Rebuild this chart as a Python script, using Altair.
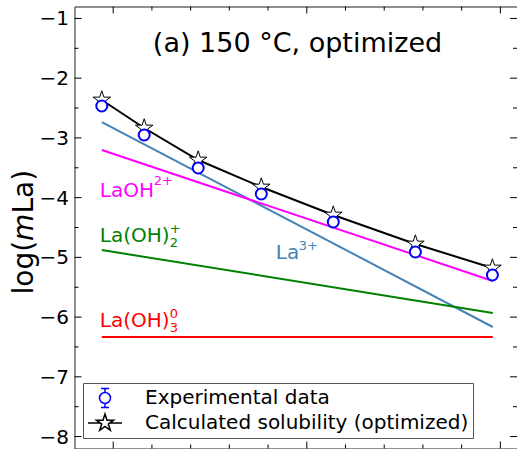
import math
import altair as alt
import pandas as pd

# ---------------- data ----------------
x_data = [-0.059, 0.160, 0.439, 0.765, 1.137, 1.561, 1.959]
exp_logm = [-2.466, -2.951, -3.504, -3.939, -4.408, -4.910, -5.295]
exp_err = [0.05, 0.05, 0.05, 0.05, 0.05, 0.05, 0.05]
calc_logm = [-2.365, -2.834, -3.370, -3.822, -4.291, -4.776, -5.178]

species_x = [-0.059, 1.961]
la3_logm = [-2.734, -6.166]
laoh_logm = [-3.202, -5.395]
laoh2_logm = [-4.877, -5.931]
laoh3_logm = [-6.334, -6.334]

species_names = ["La3+", "LaOH2+", "La(OH)2+", "La(OH)3"]
species_colors = ["steelblue", "#ff00ff", "#008000", "#ff0000"]

series_names = ["Experimental data", "Calculated solubility (optimized)"]

y_major = [-8, -7, -6, -5, -4, -3, -2, -1]
y_tick_labels = ["\u22128", "\u22127", "\u22126", "\u22125", "\u22124", "\u22123", "\u22122", "\u22121"]
y_minor = [-7.5, -6.5, -5.5, -4.5, -3.5, -2.5, -1.5]
x_major = [0, 1, 2]
x_minor = [0.2, 0.4, 0.6, 0.8, 1.2, 1.4, 1.6, 1.8]

# species labels: main text, position, sup / sub text
lab_main = ["LaOH", "La(OH)", "La(OH)", "La"]
lab_x = [-0.059, -0.059, -0.059, 0.85]
lab_y = [-3.99, -4.74, -6.17, -5.03]
lab_color = ["#ff00ff", "#008000", "#ff0000", "steelblue"]
lab_sup = ["2+", "+", "0", "3+"]
lab_sub = ["", "2", "3", ""]
lab_supdx = [54, 70, 70, 23]
lab_supdy = [-12, -9, -9, -9]
lab_subdy = [0, 5, 5, 0]

W, H = 442.5, 442
FONT = "DejaVu Sans"

xs = alt.Scale(domain=[-0.2, 2.086], nice=False, zero=False)
ys = alt.Scale(domain=[-8.2, -0.8], nice=False, zero=False)


def X(f="x"):
    return alt.X(f"{f}:Q", scale=xs, axis=None)


def Y(f="y"):
    return alt.Y(f"{f}:Q", scale=ys, axis=None)


# ---------------- marker paths ----------------
def star_pts(R, cx=0.0, cy=0.0):
    r = R * 0.381966
    pts = []
    for k in range(10):
        ang = math.radians(-90 + 36 * k)
        rad = R if k % 2 == 0 else r
        pts.append((cx + rad * math.cos(ang), cy + rad * math.sin(ang)))
    return "M" + " L".join(f"{px:.3f},{py:.3f}" for px, py in pts) + " Z"


star_marker = star_pts(1.0)
legend_calc = "M-1.7,0 L-0.5,0 M0.5,0 L1.7,0 " + star_pts(0.9)
legend_exp = ("M0.55,0 A0.55,0.55 0 1,1 -0.55,0 A0.55,0.55 0 1,1 0.55,0 Z "
              "M0,-0.55 L0,-0.95 M-0.4,-0.95 L0.4,-0.95 "
              "M0,0.55 L0,0.95 M-0.4,0.95 L0.4,0.95")

# ---------------- tables ----------------
df = pd.DataFrame({"x": x_data, "exp": exp_logm, "calc": calc_logm,
                   "lo": [v - e for v, e in zip(exp_logm, exp_err)],
                   "hi": [v + e for v, e in zip(exp_logm, exp_err)]})

sp_rows = []
for name, col, vals in zip(species_names, species_colors,
                           [la3_logm, laoh_logm, laoh2_logm, laoh3_logm]):
    for xv, yv in zip(species_x, vals):
        sp_rows.append({"x": xv, "y": yv, "sp": name, "col": col})
sp_df = pd.DataFrame(sp_rows)

leg_df = pd.DataFrame({"x": x_data + x_data, "y": exp_logm + calc_logm,
                       "series": [series_names[0]] * 7 + [series_names[1]] * 7})

# ---------------- layers ----------------
species = alt.Chart(sp_df).mark_line(strokeWidth=2).encode(
    x=X(), y=Y(), detail="sp:N", color=alt.Color("col:N", scale=None))

calc_line = alt.Chart(df).mark_line(color="black", strokeWidth=2).encode(x=X(), y=Y("calc"))
stars = alt.Chart(df).mark_point(shape=star_marker, size=340, filled=True, fill="white",
                                 stroke="black", strokeWidth=1, opacity=1).encode(
    x=X(), y=Y("calc"))
errs = alt.Chart(df).mark_rule(color="blue", strokeWidth=1.5).encode(
    x=X(), y=Y("lo"), y2="hi:Q")
circles = alt.Chart(df).mark_point(shape="circle", size=121, filled=True, fill="white",
                                   stroke="blue", strokeWidth=2, opacity=1).encode(
    x=X(), y=Y("exp"))

# y tick labels (left of the frame)
ylab = alt.Chart(pd.DataFrame({"v": y_major, "t": y_tick_labels})).mark_text(
    align="right", baseline="middle", fontSize=20, font=FONT, color="black", dy=1).encode(
    y=alt.Y("v:Q", scale=ys, axis=None), x=alt.value(-5.5), text="t:N")

# inward ticks
def yticks(vals, length, right=False):
    x0 = W - length if right else 0
    return alt.Chart(pd.DataFrame({"v": vals})).mark_rule(color="black", strokeWidth=1).encode(
        y=alt.Y("v:Q", scale=ys, axis=None), x=alt.value(x0), x2=alt.value(x0 + length))


def xticks(vals, length, bottom=False):
    y0 = H - length if bottom else 0
    return alt.Chart(pd.DataFrame({"v": vals})).mark_rule(color="black", strokeWidth=1).encode(
        x=alt.X("v:Q", scale=xs, axis=None), y=alt.value(y0), y2=alt.value(y0 + length))


ticks = [yticks(y_major, 7), yticks(y_minor, 4), yticks(y_major, 7, True), yticks(y_minor, 4, True),
         xticks(x_major, 7), xticks(x_minor, 4), xticks(x_major, 7, True), xticks(x_minor, 4, True)]

# species labels
labels = []
for i in range(len(lab_main)):
    d = pd.DataFrame({"x": [lab_x[i]], "y": [lab_y[i]], "t": [lab_main[i]],
                      "sup": [lab_sup[i]], "sub": [lab_sub[i]]})
    base = alt.Chart(d)
    labels.append(base.mark_text(align="left", baseline="alphabetic", fontSize=20, font=FONT,
                                 color=lab_color[i], dx=-2).encode(x=X(), y=Y(), text="t:N"))
    labels.append(base.mark_text(align="left", baseline="alphabetic", fontSize=13, font=FONT,
                                 color=lab_color[i], dx=-2 + lab_supdx[i], dy=lab_supdy[i]).encode(
        x=X(), y=Y(), text="sup:N"))
    if lab_sub[i]:
        labels.append(base.mark_text(align="left", baseline="alphabetic", fontSize=13, font=FONT,
                                     color=lab_color[i], dx=-2 + lab_supdx[i], dy=lab_subdy[i]).encode(
            x=X(), y=Y(), text="sub:N"))

# title inside the plot
title = alt.Chart(pd.DataFrame({"t": ["(a) 150 °C, optimized"]})).mark_text(
    align="center", baseline="alphabetic", fontSize=27, font=FONT, color="black").encode(
    x=alt.value(223), y=alt.value(45.5), text="t:N")

# y-axis title with italic m
yt1 = alt.Chart(pd.DataFrame({"t": ["log("]})).mark_text(
    align="left", baseline="alphabetic", angle=270, fontSize=28, font=FONT, color="black").encode(
    x=alt.value(-41.5), y=alt.value(288), text="t:N")
yt2 = alt.Chart(pd.DataFrame({"t": ["m"]})).mark_text(
    align="left", baseline="alphabetic", angle=270, fontSize=28, font=FONT, fontStyle="italic",
    color="black").encode(x=alt.value(-41.5), y=alt.value(288 - 53.6), text="t:N")
yt3 = alt.Chart(pd.DataFrame({"t": ["La)"]})).mark_text(
    align="left", baseline="alphabetic", angle=270, fontSize=28, font=FONT, color="black").encode(
    x=alt.value(-41.5), y=alt.value(288 - 53.6 - 27.3), text="t:N")

# legend (invisible layer that only carries the legend)
leg_kw = dict(title=None, orient="none", legendX=8.5, legendY=376.5, direction="vertical",
              symbolSize=400, symbolStrokeWidth=1.5, symbolOpacity=1, symbolOffset=7,
              labelFontSize=20, labelFont=FONT, labelColor="black", labelOffset=29,
              labelLimit=600, padding=4, rowPadding=0, strokeColor="#555555",
              fillColor="white", cornerRadius=0)
legend_layer = alt.Chart(leg_df).mark_point(opacity=0, size=400, filled=False).encode(
    x=X(), y=Y(),
    color=alt.Color("series:N", scale=alt.Scale(domain=series_names, range=["blue", "black"]),
                    legend=alt.Legend(**leg_kw)),
    shape=alt.Shape("series:N", scale=alt.Scale(domain=series_names, range=[legend_exp, legend_calc]),
                    legend=alt.Legend(**leg_kw)))

chart = alt.layer(
    species, calc_line, stars, errs, circles, *labels, title, yt1, yt2, yt3, ylab,
    *ticks, legend_layer
).properties(
    width=W, height=H,
    autosize=alt.AutoSizeParams(type="none"),
    padding={"left": 74.5, "top": 6.5, "right": 0, "bottom": 0},
    background="white",
).configure_view(stroke="#222222", strokeWidth=1)

chart.save("out.html", embed_options={"renderer": "svg", "actions": False})
